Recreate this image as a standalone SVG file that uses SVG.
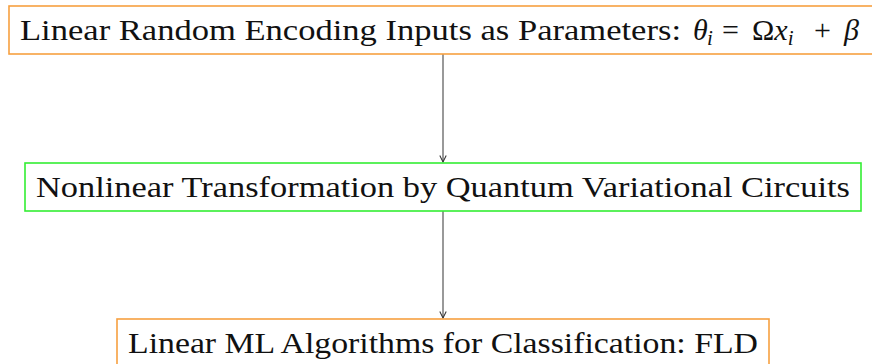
<svg xmlns="http://www.w3.org/2000/svg" width="872" height="364" viewBox="0 0 872 364">
  <style>
    .box { fill: #ffffff; stroke-width: 1.6; }
    .orange { stroke: #f7a040; }
    .green { stroke: #33ee33; }
    .label { font-family: "Liberation Serif", "DejaVu Serif", serif; font-size: 30px; fill: #111111; }
    .math { font-family: "Liberation Serif", "DejaVu Serif", serif; font-size: 30px; fill: #111111; font-style: italic; }
    .upright { font-style: normal; }
    .sub { font-size: 21px; }
    .edge { stroke: #555555; stroke-width: 1.2; fill: none; marker-end: url(#arrow); }
  </style>
  <defs>
    <marker id="arrow" viewBox="0 0 10 10" refX="9" refY="5" markerWidth="8" markerHeight="8" markerUnits="userSpaceOnUse" orient="auto">
      <path d="M1,1 L9,5 L1,9" fill="none" stroke="#333333" stroke-width="1.3"/>
    </marker>
  </defs>

  <g id="connectors">
    <line class="edge" x1="443" y1="54" x2="443" y2="162"/>
    <line class="edge" x1="443" y1="211" x2="443" y2="318"/>
  </g>

  <g id="encoding">
    <rect class="box orange" x="9" y="6" width="868" height="48"/>
    <text class="label" x="20" y="40" textLength="661" lengthAdjust="spacingAndGlyphs">Linear Random Encoding Inputs as Parameters:</text>
    <!-- θ_i = Ωx_i + β -->
    <text class="math" y="40"><tspan x="693">θ</tspan><tspan class="sub" x="707" y="45">i</tspan><tspan class="upright" x="722" y="40">=</tspan><tspan class="upright" x="752">Ω</tspan>x<tspan class="sub" y="45">i</tspan><tspan class="upright" x="814" y="40">+</tspan><tspan x="844">β</tspan></text>
  </g>

  <g id="transformation">
    <rect class="box green" x="25" y="163" width="836" height="48"/>
    <text class="label" x="36" y="197" textLength="814" lengthAdjust="spacingAndGlyphs">Nonlinear Transformation by Quantum Variational Circuits</text>
  </g>

  <g id="classification">
    <rect class="box orange" x="117" y="319" width="652" height="48"/>
    <text class="label" x="128" y="353" textLength="630" lengthAdjust="spacingAndGlyphs">Linear ML Algorithms for Classification: FLD</text>
  </g>
</svg>
